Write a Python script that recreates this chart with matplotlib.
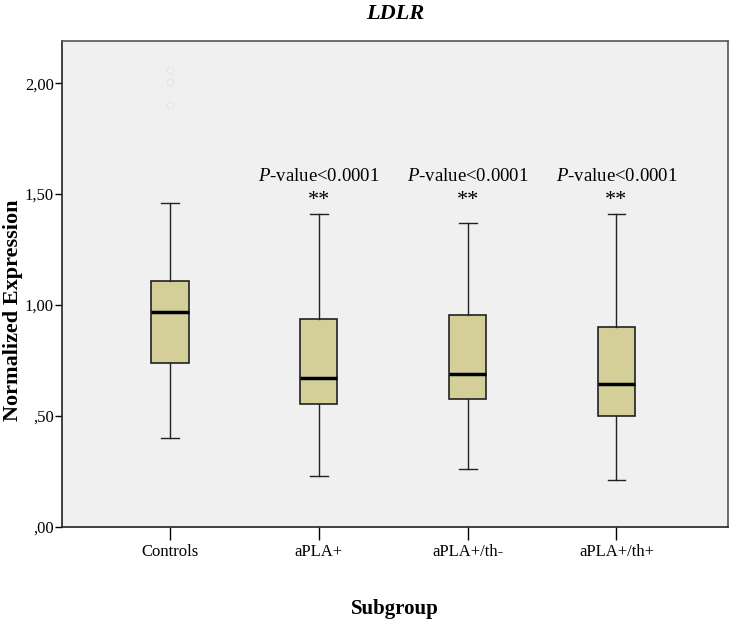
import matplotlib
matplotlib.use("Agg")
import matplotlib.pyplot as plt

plt.rcParams['font.family'] = ['Liberation Serif', 'DejaVu Serif']
plt.rcParams['mathtext.fontset'] = 'custom'
plt.rcParams['mathtext.rm'] = 'Liberation Serif'
plt.rcParams['mathtext.it'] = 'Liberation Serif:italic'

# valores
grupos = ['Controls', 'aPLA+', 'aPLA+/th-', 'aPLA+/th+']
whisk_baixo = [0.40, 0.23, 0.26, 0.21]
q1 = [0.74, 0.555, 0.575, 0.50]
mediana = [0.97, 0.67, 0.69, 0.645]
q3 = [1.11, 0.935, 0.955, 0.90]
whisk_alto = [1.46, 1.41, 1.37, 1.41]
outliers = [[2.06, 2.005, 1.90], [], [], []]
pvalor = ['', '$\\mathit{P}$-value<0.0001', '$\\mathit{P}$-value<0.0001', '$\\mathit{P}$-value<0.0001']
yticks = [0.0, 0.5, 1.0, 1.5, 2.0]
ytick_labels = [',00', ',50', '1,00', '1,50', '2,00']

stats = []
for i, g in enumerate(grupos):
    stats.append({'label': g, 'whislo': whisk_baixo[i], 'q1': q1[i], 'med': mediana[i],
                  'q3': q3[i], 'whishi': whisk_alto[i], 'fliers': outliers[i]})

fig = plt.figure(figsize=(7.31, 6.21), dpi=100)
ax = fig.add_axes([0.0848, 0.1514, 0.9112, 0.7826])
ax.set_facecolor('#f0f0f0')

pos = list(range(1, len(grupos) + 1))
ax.bxp(stats, positions=pos, widths=0.25, capwidths=0.12, patch_artist=True,
       boxprops=dict(facecolor='#d4cf99', edgecolor='#222222', linewidth=1.2),
       medianprops=dict(color='black', linewidth=2.5),
       whiskerprops=dict(color='#222222', linewidth=1.0),
       capprops=dict(color='#222222', linewidth=1.0),
       flierprops=dict(marker='o', markersize=5, markerfacecolor='none',
                       markeredgecolor='#e6e6e6', markeredgewidth=0.8))

for i, txt in enumerate(pvalor):
    if txt:
        ax.text(pos[i], 1.58, txt, ha='center', va='center', fontsize=13.5)
        ax.text(pos[i], 1.47, '**', ha='center', va='center', fontsize=16)

ax.set_xlim(0.275, 4.75)
ax.set_ylim(0, 2.19)
ax.set_yticks(yticks)
ax.set_yticklabels(ytick_labels, fontsize=12)
ax.set_xticks(pos)
ax.set_xticklabels(grupos, fontsize=12)
ax.tick_params(axis='y', direction='out', length=5, width=1, pad=1)
ax.tick_params(axis='x', direction='out', length=9, width=1, pad=3)

for s in ['left', 'bottom']:
    ax.spines[s].set_color('#222222')
    ax.spines[s].set_linewidth(1.2)
for s in ['top', 'right']:
    ax.spines[s].set_color('#555555')
    ax.spines[s].set_linewidth(1.2)

ax.set_title('LDLR', fontsize=16, fontweight='bold', fontstyle='italic', pad=16)
fig.text(13 / 731, 0.5, 'Normalized Expression', rotation=90, ha='center', va='center',
         fontsize=16, fontweight='bold')
ax.set_xlabel('Subgroup', fontsize=15, fontweight='bold', labelpad=28)

plt.savefig('out.png', dpi=100)
